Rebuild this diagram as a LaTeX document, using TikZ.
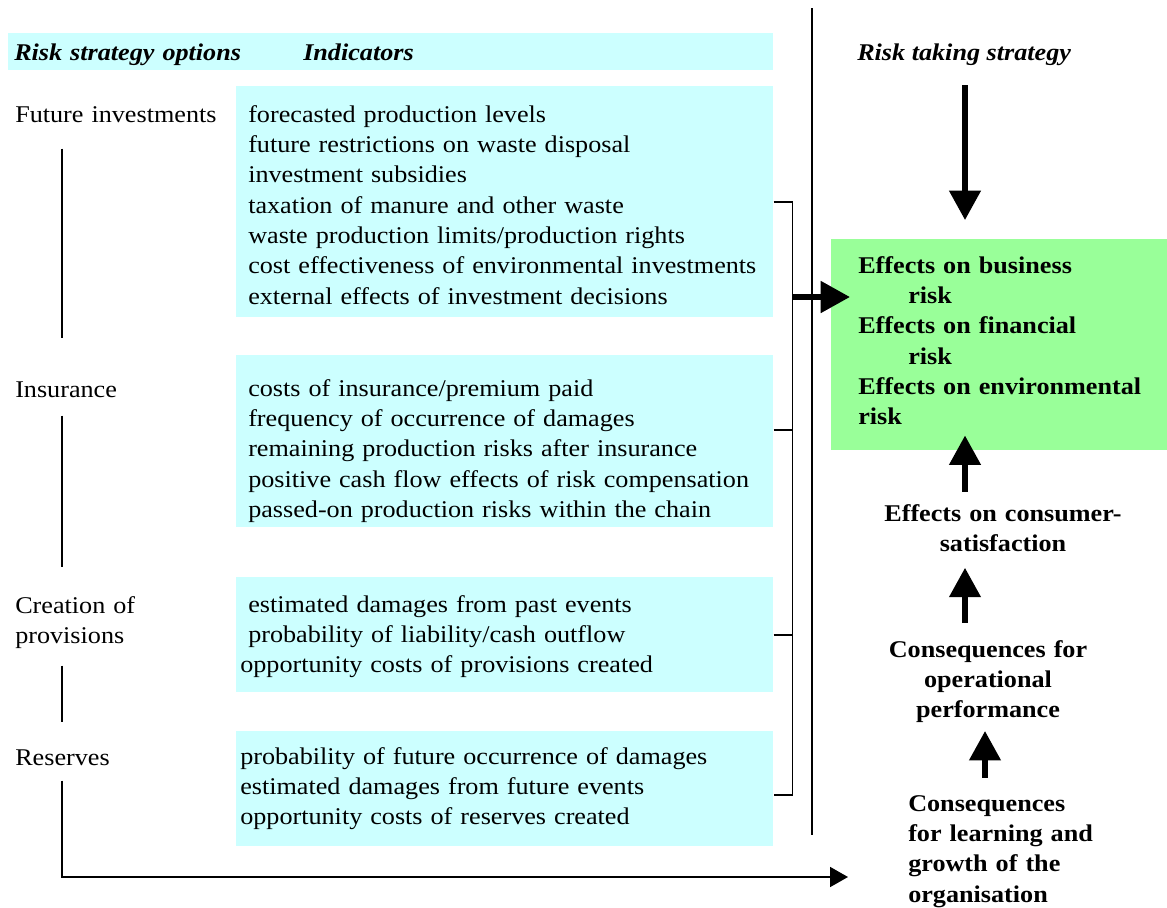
\documentclass[tikz,border=0pt]{standalone}
\usepackage{fontspec}
\setmainfont{Liberation Serif}[FakeStretch=1.09]
\usetikzlibrary{arrows.meta}
\definecolor{indcyan}{HTML}{CCFFFF}
\definecolor{effgreen}{HTML}{99FF99}
\newcommand{\txtsize}{\fontsize{18pt}{22.75pt}\selectfont}
\begin{document}
\begin{tikzpicture}[x=0.75pt,y=-0.75pt,
    every node/.style={inner sep=0pt,font=\txtsize},
    head/.style={font=\txtsize\bfseries\itshape},
    lbl/.style={anchor=base west,text width=170pt,align=left},
    res/.style={font=\txtsize\bfseries,text width=195pt,align=center,anchor=base},
    indbox/.style={fill=indcyan,anchor=north west,inner xsep=9pt,text width=384.75pt,align=left},
    rule/.style={line width=1.3pt},
    bigarrow/.style={line width=4pt,-{Triangle[length=22pt,width=23pt]}}]
    \useasboundingbox (0,0) rectangle (1167,907);
    \coordinate (lx) at (62,0);
    \coordinate (bx) at (792,0);
    \coordinate (ax) at (965,0);
    \coordinate (ax2) at (985,0);
    \coordinate (ar) at (0,297);
    \coordinate (bot) at (0,877);

    \node[head,fill=indcyan,anchor=north west,inner xsep=4.5pt,text width=564.75pt,
        text height=20.25pt,text depth=7.5pt,align=left] (hdr) at (8,33) {Risk strategy options};
    \node[head,anchor=base west] (indh) at (303,60) {Indicators};
    \node[head,anchor=base west] (rts) at (857,60) {Risk taking strategy};
    \draw[rule] (812,8) -- (812,835);

    \node[lbl] (fut) at (15,122) {Future investments};
    \node[lbl] (ins) at (15,397) {Insurance};
    \node[lbl] (prov) at (15,613) {Creation of\\provisions};
    \node[lbl] (resv) at (15,765) {Reserves};

    \node[indbox,text height=27pt,text depth=146.25pt] (ind1) at (236,86) {forecasted production levels\\
        future restrictions on waste disposal\\investment subsidies\\taxation of manure and other waste\\
        waste production limits/production rights\\cost effectiveness of environmental investments\\
        external effects of investment decisions};
    \node[indbox,text height=30.75pt,text depth=98.25pt] (ind2) at (236,355) {costs of insurance/premium paid\\
        frequency of occurrence of damages\\remaining production risks after insurance\\
        positive cash flow effects of risk compensation\\passed-on production risks within the chain};
    \node[indbox,text height=26.25pt,text depth=60pt] (ind3) at (236,577) {estimated damages from past events\\
        probability of liability/cash outflow\\\hspace*{-6pt}opportunity costs of provisions created};
    \node[indbox,inner xsep=3pt,text width=396.75pt,text height=24.75pt,text depth=61.5pt] (ind4) at (236,731)
        {probability of future occurrence of damages\\estimated damages from future events\\
        opportunity costs of reserves created};

    \node[fill=effgreen,anchor=north west,font=\txtsize\bfseries,inner xsep=20.25pt,text width=211.5pt,
        text height=25.5pt,text depth=132.75pt,align=left] (eff) at (831,239) {Effects on business\\
        \hspace*{37.5pt}risk\\Effects on financial\\\hspace*{37.5pt}risk\\\mbox{Effects on environmental}\\risk};
    \node[res] (cs) at (1003,521) {Effects on consumer-\\satisfaction};
    \node[res] (op) at (988,657) {Consequences for\\operational\\performance};
    \node[res,anchor=base west,align=left,text width=160pt] (learn) at (908,811)
        {Consequences\\for learning and\\growth of the\\organisation};

    \draw[rule,shorten <=19.5pt,shorten >=32.25pt] (fut.south -| lx) -- (ins.north -| lx);
    \draw[rule,shorten <=13.5pt,shorten >=21.75pt] (ins.south -| lx) -- (prov.north -| lx);
    \draw[rule,shorten <=12.75pt,shorten >=20.25pt] (prov.south -| lx) -- (resv.north -| lx);
    \draw[rule,-{Triangle[length=13.5pt,width=15pt]},shorten <=11.25pt,shorten >=45pt]
        (resv.south -| lx) |- (learn.west |- bot);

    \draw[rule] (ind1.east) -- ++(19,0) |- ([yshift=-4.9pt]ind4.east);
    \draw[rule] ([yshift=8.25pt]ind2.east) -- ++(19,0);
    \draw[rule] (ind3.east) -- ++(19,0);
    \draw[bigarrow,line width=4.5pt,shorten >=-14.25pt] (bx |- ar) -- (eff.west |- ar);

    \draw[bigarrow,shorten <=15pt,shorten >=14.25pt] (rts.south -| ax) -- (eff.north -| ax);
    \draw[bigarrow,shorten <=9pt,shorten >=-11.25pt] (cs.north -| ax) -- (eff.south -| ax);
    \draw[bigarrow,shorten <=12.75pt,shorten >=12pt] (op.north -| ax) -- (cs.south -| ax);
    \draw[bigarrow,shorten <=12.75pt,shorten >=6pt] (learn.north -| ax2) -- (op.south -| ax2);
\end{tikzpicture}
\end{document}
